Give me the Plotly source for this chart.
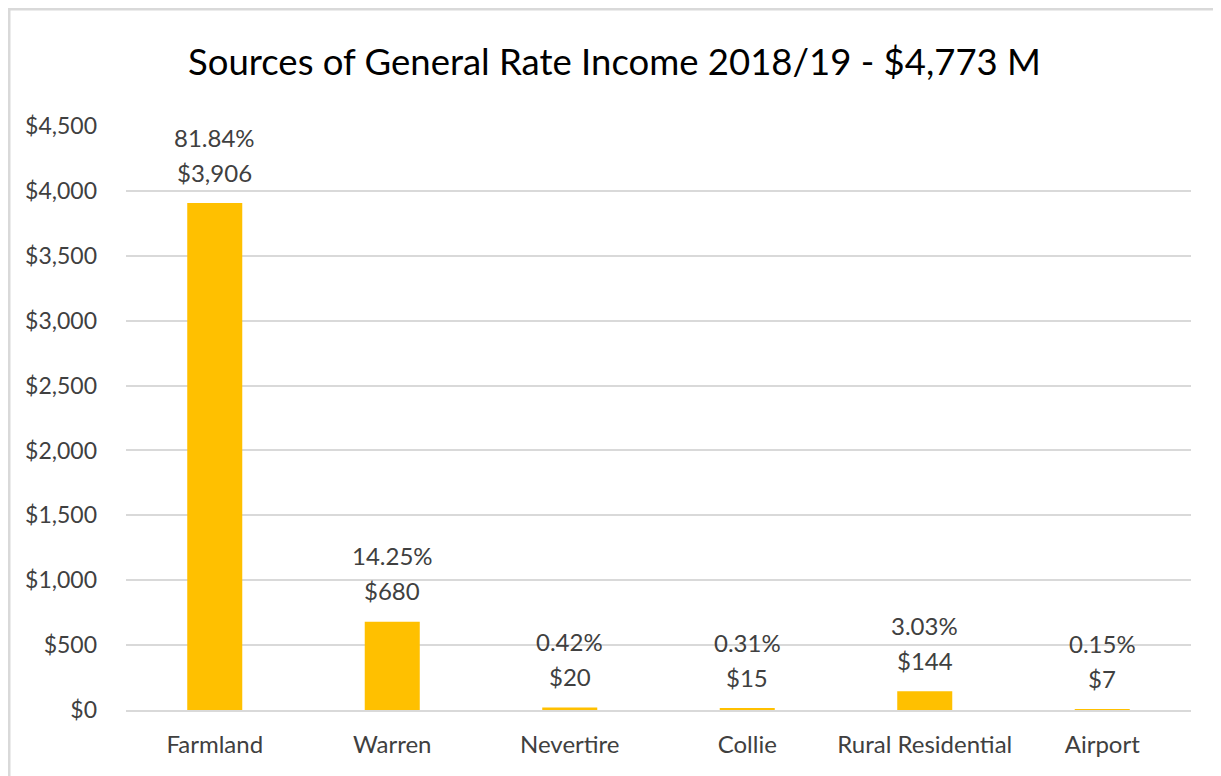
import plotly.graph_objects as go

categories = ["Farmland", "Warren", "Nevertire", "Collie", "Rural Residential", "Airport"]
values = [3906, 680, 20, 15, 144, 7]
percents = ["81.84%", "14.25%", "0.42%", "0.31%", "3.03%", "0.15%"]
title_text = "Sources of General Rate Income 2018/19 - $4,773 M"

# page body adds an 8px offset; figure sized to fill the rest of the window
W, H = 1213, 768
L, R, T, B = 118, 30, 118, 66
pw, ph = W - L - R, H - T - B

FONT = "Lato, sans-serif"
TXT = "#404040"

fig = go.Figure(go.Bar(
    x=categories, y=values,
    marker=dict(color="#FFC000", line=dict(width=0)),
    width=0.31,
    hoverinfo="x+y",
))

annotations = []
for c, v, p in zip(categories, values, percents):
    annotations.append(dict(x=c, y=v, xref="x", yref="y", text=f"${v:,}", showarrow=False,
                            yanchor="middle", yshift=31,
                            font=dict(size=24, color=TXT, family=FONT)))
    annotations.append(dict(x=c, y=v, xref="x", yref="y", text=p, showarrow=False,
                            yanchor="middle", yshift=66,
                            font=dict(size=24, color=TXT, family=FONT)))

fig.update_layout(
    width=W, height=H,
    margin=dict(l=L, r=R, t=T, b=B),
    paper_bgcolor="white", plot_bgcolor="white",
    font=dict(family=FONT, color=TXT),
    title=dict(text=title_text, x=0.5, xref="container", xanchor="center",
               y=1 - 54 / H, yanchor="middle",
               font=dict(size=36.5, color="#000000", family=FONT)),
    showlegend=False,
    annotations=annotations,
    shapes=[dict(type="rect", xref="paper", yref="paper",
                 x0=(1 - L) / pw, x1=(W + 20 - L) / pw,
                 y0=(H - B - 800) / ph, y1=(H - B - 1) / ph,
                 line=dict(color="#d9d9d9", width=3), fillcolor="rgba(0,0,0,0)", layer="below")],
)
fig.update_yaxes(range=[0, 4500], dtick=500, tickprefix="$", tickformat=",d",
                 showgrid=True, gridcolor="#d9d9d9", gridwidth=2,
                 zeroline=False, showline=False, ticks="", ticklabelstandoff=28,
                 tickfont=dict(size=23, color=TXT))
fig.update_xaxes(showline=True, linecolor="#d9d9d9", linewidth=2, ticks="",
                 ticklabelstandoff=12, tickfont=dict(size=24, color=TXT))

fig.write_html("out.html")
